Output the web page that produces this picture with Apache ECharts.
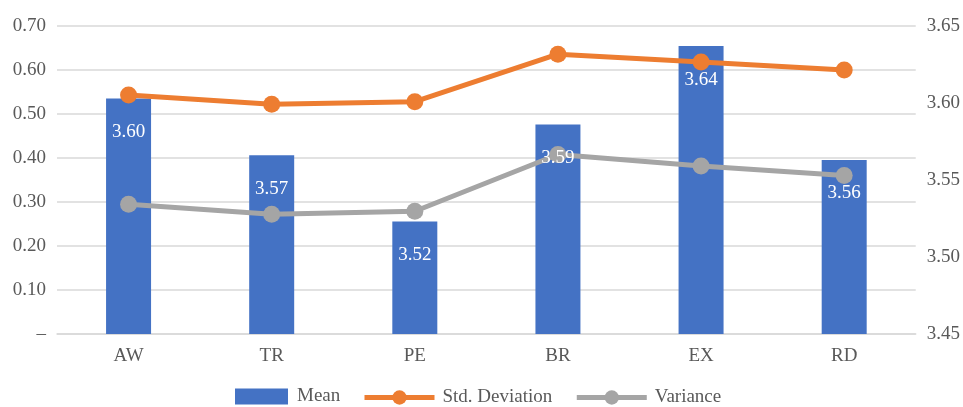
<!DOCTYPE html>
<html>
<head>
<meta charset="utf-8">
<script src="https://cdn.jsdelivr.net/npm/echarts@6/dist/echarts.min.js"></script>
<style>
  html, body { margin: 0; padding: 0; background: #fff; }
  #chart { width: 963px; height: 407px; }
</style>
</head>
<body>
<div id="chart"></div>
<script>
var categories = ['AW', 'TR', 'PE', 'BR', 'EX', 'RD'];
var meanValues = [3.603, 3.566, 3.523, 3.586, 3.637, 3.563];
var stdValues = [0.543, 0.522, 0.528, 0.636, 0.618, 0.600];
var varValues = [0.295, 0.272, 0.279, 0.408, 0.382, 0.360];

var font = 'Liberation Serif';
var textColor = '#595959';

var chart = echarts.init(document.getElementById('chart'));

var option = {
    animation: false,
    textStyle: { fontFamily: font },
    grid: { left: 57, right: 47, top: 26, bottom: 73 },
    legend: [{
        data: [{ name: 'Mean', icon: 'rect' }],
        left: 235,
        bottom: 1,
        padding: 0,
        itemWidth: 53,
        itemHeight: 16,
        textStyle: { fontFamily: font, fontSize: 19, color: textColor, padding: [0, 0, 0, 4] }
    }, {
        data: ['Std. Deviation', 'Variance'],
        left: 362,
        bottom: 0,
        padding: 0,
        itemWidth: 70,
        itemHeight: 18,
        itemGap: 22,
        lineStyle: { width: 5 },
        textStyle: { fontFamily: font, fontSize: 19, color: textColor, padding: [0, 0, 0, 3] }
    }],
    xAxis: {
        type: 'category',
        data: categories,
        axisTick: { show: false },
        axisLine: { lineStyle: { color: '#D9D9D9', width: 1.5 } },
        axisLabel: { fontFamily: font, fontSize: 19, color: textColor, margin: 13 }
    },
    yAxis: [{
        type: 'value',
        min: 0,
        max: 0.7,
        interval: 0.1,
        axisLine: { show: false },
        axisTick: { show: false },
        splitLine: { lineStyle: { color: '#D9D9D9', width: 1.5 } },
        axisLabel: {
            fontFamily: font, fontSize: 19, color: textColor, margin: 11,
            formatter: function (v) {
                return v === 0 ? '–' : v.toFixed(2);
            }
        }
    }, {
        type: 'value',
        min: 3.45,
        max: 3.65,
        interval: 0.05,
        axisLine: { show: false },
        axisTick: { show: false },
        splitLine: { show: false },
        axisLabel: {
            fontFamily: font, fontSize: 19, color: textColor, margin: 11,
            formatter: function (v) {
                return v.toFixed(2);
            }
        }
    }],
    series: [{
        name: 'Mean',
        type: 'bar',
        yAxisIndex: 1,
        data: meanValues,
        barWidth: 45,
        itemStyle: { color: '#4472C4' },
        z: 2
    }, {
        name: 'Std. Deviation',
        type: 'line',
        yAxisIndex: 0,
        data: stdValues,
        symbol: 'circle',
        symbolSize: 17,
        lineStyle: { color: '#ED7D31', width: 5 },
        itemStyle: { color: '#ED7D31' },
        z: 3
    }, {
        name: 'Variance',
        type: 'line',
        yAxisIndex: 0,
        data: varValues,
        symbol: 'circle',
        symbolSize: 17,
        lineStyle: { color: '#A5A5A5', width: 5 },
        itemStyle: { color: '#A5A5A5' },
        z: 3
    }, {
        // transparent copy of the bars that carries the value labels above the lines
        name: 'MeanLabels',
        type: 'bar',
        yAxisIndex: 1,
        data: meanValues,
        barWidth: 45,
        barGap: '-100%',
        silent: true,
        itemStyle: { color: 'rgba(0,0,0,0)' },
        label: {
            show: true,
            position: 'insideTop',
            distance: 24,
            color: '#fff',
            fontFamily: font,
            fontSize: 19,
            formatter: function (p) {
                return p.value.toFixed(2);
            }
        },
        z: 5
    }]
};

chart.setOption(option);
</script>
</body>
</html>
